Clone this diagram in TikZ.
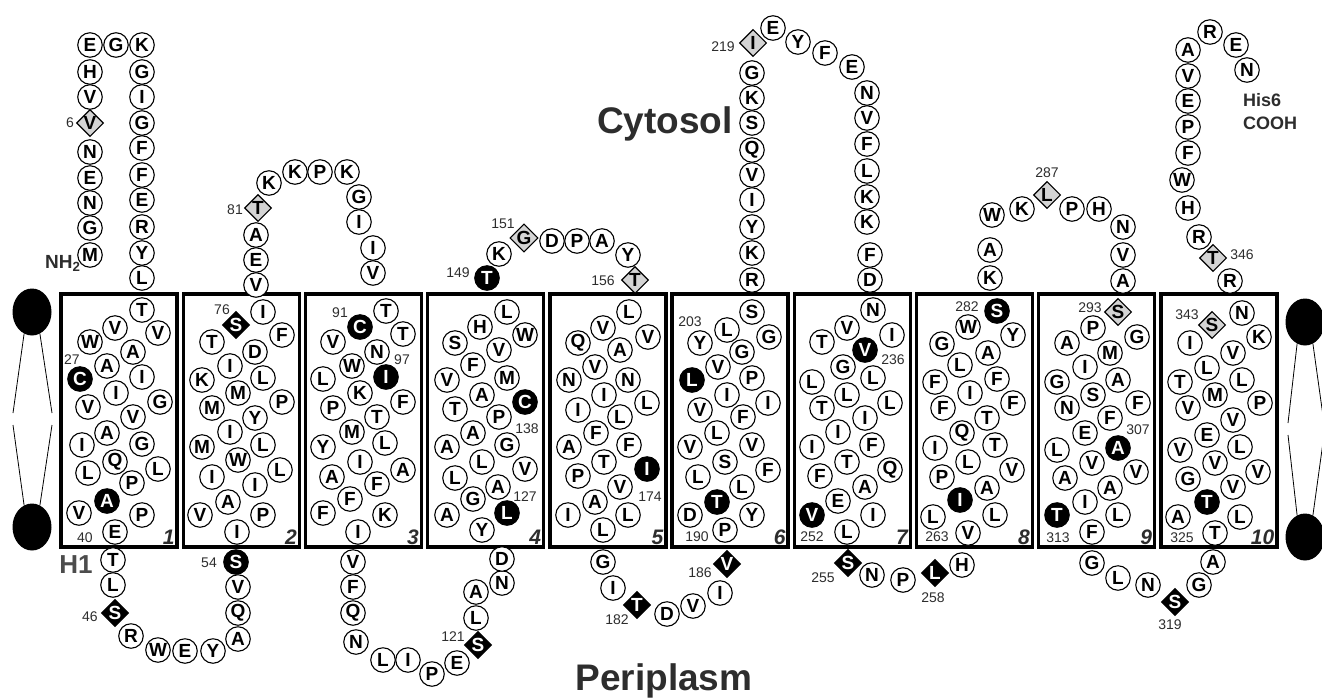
\documentclass[tikz,border=0pt]{standalone}
\usepackage{fontspec}
\setmainfont{Liberation Sans}
\usepackage{tikz}
\usetikzlibrary{shapes.geometric}
\definecolor{diagray}{RGB}{212,212,212}
\definecolor{labgray}{RGB}{45,45,45}
\newcommand{\aafont}{\fontsize{19}{19}\selectfont\bfseries}

\begin{document}
\begin{tikzpicture}[x=1pt, y=-1pt,
  aa/.style={circle, draw, line width=1.1pt, fill=white, minimum size=24.5pt, inner sep=0pt, font=\aafont},
  aahot/.style={aa, fill=black, text=white},
  aagray/.style={diamond, draw, line width=1.1pt, fill=diagray, minimum size=27pt, inner sep=0pt, font=\aafont},
  aablk/.style={aagray, fill=black, text=white},
  num/.style={inner sep=0pt, font=\fontsize{14}{14}\selectfont, text=labgray},
  tmbox/.style={draw, line width=3.4pt, minimum width=116pt, minimum height=253pt, inner sep=0pt},
  tmnum/.style={inner sep=0pt, font=\fontsize{21}{21}\selectfont\bfseries\itshape, text=labgray},
  lipid/.style={ellipse, fill=black, minimum width=39pt, minimum height=47pt, inner sep=0pt},
  side/.style={font=\fontsize{37}{37}\selectfont\bfseries, text=labgray, inner sep=0pt}]
  \useasboundingbox (0,0) rectangle (1322,697);

  % membrane edges
  \node[lipid] (lipL1) at (32,312) {};
  \node[lipid] (lipL2) at (32,527) {};
  \node[lipid] (lipR1) at (1305,322) {};
  \node[lipid] (lipR2) at (1305,537) {};
  \coordinate (lmA) at (13,413); \coordinate (lmB) at (52,413);
  \coordinate (lmC) at (13,425); \coordinate (lmD) at (52,425);
  \coordinate (rmA) at (1288,423); \coordinate (rmB) at (1324,423);
  \coordinate (rmC) at (1288,435); \coordinate (rmD) at (1324,435);
  \draw[line width=0.8pt] (lipL1.250) -- (lmA) (lipL1.290) -- (lmB) (lmC) -- (lipL2.110) (lmD) -- (lipL2.70);
  \draw[line width=0.8pt] (lipR1.250) -- (rmA) (lipR1.290) -- (rmB) (rmC) -- (lipR2.110) (rmD) -- (lipR2.70);

  \foreach \i in {1,...,10} {
    \node[tmbox] (tm\i) at ({119+122.2*(\i-1)},420.5) {};
    \node[tmnum, anchor=south east] (tmn\i) at ([shift={(-4pt,4pt)}]tm\i.south east) {\i};
  }

  % N-terminus
  \foreach \x/\y/\a/\s [count=\n] in {90/255/M/aa, 90/228/G/aa, 90/203/N/aa, 90/178/E/aa, 90/152/N/aa, 90/123/V/aagray,
      90/97/V/aa, 90/72/H/aa, 90/45/E/aa, 116/45/G/aa, 142/45/K/aa, 142/72/G/aa, 142/97/I/aa, 142/123/G/aa,
      142/148/F/aa, 142/175/F/aa, 142/200/E/aa, 142/227/R/aa, 142/253/Y/aa, 142/278/L/aa}
    \node[\s] (nt\n) at (\x,\y) {\a};
  % helix 1
  \foreach \x/\y/\a/\s [count=\n] in {142/310/T/aa, 115/328/V/aa, 158/333/V/aa, 90/342/W/aa, 133/352/A/aa, 80/379/C/aahot,
      107/366/A/aa, 142/377/I/aa, 116/393/I/aa, 160/402/G/aa, 88/407/V/aa, 133/417/V/aa, 107/433/A/aa, 142/444/G/aa,
      82/445/I/aa, 115/462/Q/aa, 158/469/L/aa, 88/473/L/aa, 132/483/P/aa, 107/501/A/aahot, 79/513/V/aa, 142/515/P/aa, 115/532/E/aa}
    \node[\s] (ha\n) at (\x,\y) {\a};
  % loop 1-2
  \foreach \x/\y/\a/\s [count=\n] in {113/560/T/aa, 113/585/L/aa, 115/613/S/aablk, 131/636/R/aa, 158/650/W/aa, 185/651/E/aa,
      213/651/Y/aa, 238/639/A/aa, 238/613/Q/aa, 238/587/V/aa, 236/562/S/aahot}
    \node[\s] (la\n) at (\x,\y) {\a};
  % helix 2
  \foreach \x/\y/\a/\s [count=\n] in {237/532/I/aa, 263/515/P/aa, 200/515/V/aa, 228/502/A/aa, 255/485/I/aa, 212/477/I/aa,
      280/470/L/aa, 238/460/W/aa, 202/447/M/aa, 263/445/L/aa, 230/432/I/aa, 255/418/Y/aa, 212/408/M/aa, 282/402/P/aa,
      238/393/M/aa, 202/380/K/aa, 263/378/L/aa, 230/366/I/aa, 255/352/D/aa, 212/342/T/aa, 282/335/F/aa, 236/325/S/aablk, 263/312/I/aa}
    \node[\s] (hb\n) at (\x,\y) {\a};
  % loop 2-3
  \foreach \x/\y/\a/\s [count=\n] in {256/285/V/aa, 256/260/E/aa, 256/235/A/aa, 258/208/T/aagray, 269/183/K/aa, 295/172/K/aa,
      320/172/P/aa, 347/172/K/aa, 359/197/G/aa, 359/222/I/aa, 373/248/I/aa, 373/273/V/aa}
    \node[\s] (lb\n) at (\x,\y) {\a};
  % helix 3
  \foreach \x/\y/\a/\s [count=\n] in {386/311/T/aa, 360/327/C/aahot, 403/334/T/aa, 333/342/V/aa, 377/352/N/aa, 352/366/W/aa,
      386/377/I/aahot, 323/379/L/aa, 360/393/K/aa, 403/402/F/aa, 333/408/P/aa, 377/417/T/aa, 352/432/M/aa, 385/443/L/aa,
      323/447/Y/aa, 360/462/I/aa, 403/470/A/aa, 332/477/A/aa, 377/484/F/aa, 350/499/F/aa, 323/513/F/aa, 385/515/K/aa, 358/532/I/aa}
    \node[\s] (hc\n) at (\x,\y) {\a};
  % loop 3-4
  \foreach \x/\y/\a/\s [count=\n] in {353/562/V/aa, 353/587/F/aa, 353/613/Q/aa, 356/642/N/aa, 383/660/L/aa, 408/660/I/aa,
      432/674/P/aa, 457/663/E/aa, 478/645/S/aablk, 476/618/L/aa, 476/592/A/aa, 502/583/N/aa, 502/559/D/aa}
    \node[\s] (lc\n) at (\x,\y) {\a};
  % helix 4
  \foreach \x/\y/\a/\s [count=\n] in {482/530/Y/aa, 507/513/L/aahot, 447/515/A/aa, 473/499/G/aa, 498/487/A/aa, 455/478/L/aa,
      525/469/V/aa, 482/462/L/aa, 447/447/A/aa, 507/445/G/aa, 473/433/A/aa, 499/417/P/aa, 455/409/T/aa, 525/402/C/aahot,
      482/395/A/aa, 447/380/V/aa, 507/378/M/aa, 473/365/F/aa, 499/350/V/aa, 455/343/S/aa, 525/335/W/aa, 480/327/H/aa, 507/312/L/aa}
    \node[\s] (hd\n) at (\x,\y) {\a};
  % loop 4-5
  \foreach \x/\y/\a/\s [count=\n] in {487/278/T/aahot, 499/254/K/aa, 524/238/G/aagray, 552/241/D/aa, 577/241/P/aa,
      602/241/A/aa, 628/255/Y/aa, 635/280/T/aagray}
    \node[\s] (ld\n) at (\x,\y) {\a};
  % helix 5
  \foreach \x/\y/\a/\s [count=\n] in {629/312/L/aa, 603/328/V/aa, 648/337/V/aa, 578/343/Q/aa, 620/350/A/aa, 595/367/V/aa,
      628/380/N/aa, 569/380/N/aa, 604/395/I/aa, 647/403/L/aa, 578/410/I/aa, 620/417/L/aa, 596/433/F/aa, 629/445/F/aa,
      569/447/A/aa, 604/462/T/aa, 647/469/I/aahot, 578/476/P/aa, 620/487/V/aa, 595/502/A/aa, 568/515/I/aa, 628/515/L/aa, 603/530/L/aa}
    \node[\s] (he\n) at (\x,\y) {\a};
  % loop 5-6
  \foreach \x/\y/\a/\s [count=\n] in {603/562/G/aa, 613/588/I/aa, 637/605/T/aablk, 667/614/D/aa, 693/606/V/aa, 720/593/I/aa, 727/564/V/aablk}
    \node[\s] (le\n) at (\x,\y) {\a};
  % helix 6
  \foreach \x/\y/\a/\s [count=\n] in {725/530/P/aa, 690/515/D/aa, 752/515/Y/aa, 717/502/T/aahot, 742/487/L/aa, 698/477/L/aa,
      768/470/F/aa, 725/462/S/aa, 690/447/V/aa, 752/445/V/aa, 717/433/L/aa, 743/417/F/aa, 700/410/V/aa, 768/403/I/aa,
      727/395/I/aa, 692/380/L/aahot, 752/378/P/aa, 718/367/V/aa, 742/352/G/aa, 700/343/Y/aa, 769/337/G/aa, 727/330/L/aa, 752/312/S/aa}
    \node[\s] (hf\n) at (\x,\y) {\a};
  % loop 6-7
  \foreach \x/\y/\a/\s [count=\n] in {752/280/R/aa, 752/253/K/aa, 752/227/Y/aa, 752/200/I/aa, 752/175/V/aa, 752/150/Q/aa,
      752/123/S/aa, 752/98/K/aa, 752/73/G/aa, 753/43/I/aagray, 773/28/E/aa, 798/42/Y/aa, 825/53/F/aa, 852/67/E/aa,
      867/93/N/aa, 867/118/V/aa, 867/144/F/aa, 867/171/L/aa, 867/197/K/aa, 867/222/K/aa, 870/255/F/aa, 870/280/D/aa}
    \node[\s] (lf\n) at (\x,\y) {\a};
  % helix 7
  \foreach \x/\y/\a/\s [count=\n] in {873/310/N/aa, 847/328/V/aa, 892/335/I/aa, 822/342/T/aa, 865/350/V/aahot, 843/367/G/aa,
      873/378/L/aa, 812/382/L/aa, 847/395/L/aa, 890/403/L/aa, 822/408/T/aa, 865/418/I/aa, 838/432/I/aa, 872/445/F/aa,
      812/447/I/aa, 847/462/T/aa, 890/470/Q/aa, 820/476/F/aa, 865/487/A/aa, 838/501/E/aa, 812/515/V/aahot, 873/515/I/aa, 847/532/L/aa}
    \node[\s] (hg\n) at (\x,\y) {\a};
  % loop 7-8
  \foreach \x/\y/\a/\s [count=\n] in {848/563/S/aablk, 872/575/N/aa, 903/580/P/aa, 935/573/L/aablk, 962/565/H/aa}
    \node[\s] (lg\n) at (\x,\y) {\a};
  % helix 8
  \foreach \x/\y/\a/\s [count=\n] in {968/533/V/aa, 995/515/L/aa, 933/517/L/aa, 960/500/I/aahot, 987/488/A/aa, 942/477/P/aa,
      1012/470/V/aa, 968/462/L/aa, 935/448/I/aa, 995/445/T/aa, 962/433/Q/aa, 987/418/T/aa, 943/408/F/aa, 1013/403/F/aa,
      970/393/I/aa, 935/382/F/aa, 997/379/F/aa, 960/365/L/aa, 988/353/A/aa, 942/344/G/aa, 1013/335/Y/aa, 968/327/W/aa, 997/311/S/aahot}
    \node[\s] (hh\n) at (\x,\y) {\a};
  % loop 8-9
  \foreach \x/\y/\a/\s [count=\n] in {990/278/K/aa, 990/250/A/aa, 992/215/W/aa, 1022/209/K/aa, 1047/195/L/aagray,
      1072/209/P/aa, 1099/209/H/aa, 1123/227/N/aa, 1123/255/V/aa, 1123/281/A/aa}
    \node[\s] (lh\n) at (\x,\y) {\a};
  % helix 9
  \foreach \x/\y/\a/\s [count=\n] in {1118/312/S/aagray, 1093/328/P/aa, 1137/337/G/aa, 1067/343/A/aa, 1110/353/M/aa,
      1085/367/I/aa, 1118/380/A/aa, 1057/382/G/aa, 1093/395/S/aa, 1138/403/F/aa, 1067/408/N/aa, 1110/418/F/aa,
      1085/433/E/aa, 1118/448/A/aahot, 1057/450/L/aa, 1092/463/V/aa, 1136/472/V/aa, 1065/478/A/aa, 1110/488/A/aa,
      1085/502/I/aa, 1118/515/L/aa, 1057/515/T/aahot, 1092/532/F/aa}
    \node[\s] (hi\n) at (\x,\y) {\a};
  % loop 9-10
  \foreach \x/\y/\a/\s [count=\n] in {1092/563/G/aa, 1118/578/L/aa, 1148/585/N/aa, 1175/602/S/aablk, 1199/585/G/aa, 1213/562/A/aa}
    \node[\s] (li\n) at (\x,\y) {\a};
  % helix 10
  \foreach \x/\y/\a/\s [count=\n] in {1215/533/T/aa, 1178/517/A/aa, 1240/517/L/aa, 1207/502/T/aahot, 1233/487/V/aa,
      1188/479/G/aa, 1258/472/V/aa, 1215/463/V/aa, 1180/450/V/aa, 1240/447/L/aa, 1207/435/E/aa, 1233/420/V/aa,
      1188/408/V/aa, 1260/403/P/aa, 1215/395/M/aa, 1180/382/T/aa, 1242/380/L/aa, 1207/368/L/aa, 1233/353/V/aa,
      1190/343/I/aa, 1259/337/K/aa, 1212/325/S/aagray, 1242/313/N/aa}
    \node[\s] (hj\n) at (\x,\y) {\a};
  % C-terminus
  \foreach \x/\y/\a/\s [count=\n] in {1230/281/R/aa, 1213/258/T/aagray, 1199/237/R/aa, 1188/208/H/aa, 1182/180/W/aa,
      1188/153/F/aa, 1188/127/P/aa, 1188/101/E/aa, 1188/76/V/aa, 1188/50/A/aa, 1210/32/R/aa, 1236/45/E/aa, 1247/70/N/aa}
    \node[\s] (ct\n) at (\x,\y) {\a};

  % residue numbers
  \foreach \x/\y/\t in {70/123/6, 72/360/27, 85/538/40, 90/617/46, 209/563/54, 222/310/76, 235/210/81, 340/313/91,
      402/360/97, 453/637/121, 525/497/127, 527/429/138, 458/273/149, 503/224/151, 603/281/156, 650/497/174,
      617/620/182, 700/573/186, 697/537/190, 690/322/203, 723/47/219, 893/360/236, 812/537/252, 823/578/255,
      933/598/258, 937/537/263, 967/307/282, 1047/173/287, 1090/308/293, 1138/430/307, 1058/538/313,
      1170/625/319, 1182/538/325, 1187/315/343, 1242/255/346}
    \node[num] (n\t) at (\x,\y) {\t};

  \node[inner sep=0pt, anchor=base west, font=\fontsize{19}{19}\selectfont\bfseries, text=labgray] (nh2) at (45,268) {NH\textsubscript{2}};
  \node[inner sep=0pt, anchor=base, font=\fontsize{26}{26}\selectfont\bfseries, text=labgray!85!white] (h1) at (76,573) {H1};
  \node[side, anchor=base] (cyto) at (665,133) {Cytosol};
  \node[side, anchor=base] (peri) at (664,690) {Periplasm};
  \node[inner sep=0pt, anchor=base west, font=\fontsize{18}{18}\selectfont\bfseries, text=labgray] (his) at (1243,106) {His6};
  \node[inner sep=0pt, anchor=base west, font=\fontsize{18}{18}\selectfont\bfseries, text=labgray] (cooh) at (1243,129) {COOH};
\end{tikzpicture}
\end{document}
